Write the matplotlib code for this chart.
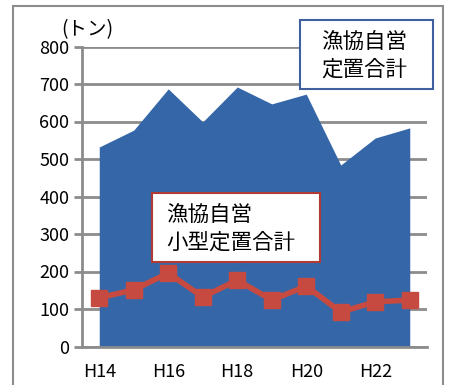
import matplotlib.pyplot as plt
from matplotlib.patches import Rectangle

plt.rcParams['font.family'] = ['Noto Sans CJK JP', 'DejaVu Sans']

years = ['H14', 'H15', 'H16', 'H17', 'H18', 'H19', 'H20', 'H21', 'H22', 'H23']
total = [532, 577, 687, 599, 692, 647, 673, 484, 556, 583]
small = [130, 151, 196, 132, 177, 124, 161, 92, 119, 124]
tick_years = ['H14', 'H16', 'H18', 'H20', 'H22']

W, H = 450, 385
fig = plt.figure(figsize=(W / 100, H / 100), dpi=100)


def fx(px):
    return px / W


def fy(py):
    return 1 - py / H


# outer frame
fig.patches.append(Rectangle((fx(13), fy(400)), fx(443) - fx(13), fy(6) - fy(400),
                             transform=fig.transFigure, fill=False,
                             edgecolor='#8c8c8c', linewidth=1.5))

ax = fig.add_axes([fx(82), fy(346.5), fx(427) - fx(82), fy(46.5) - fy(346.5)])
x = list(range(len(years)))

ax.fill_between(x, 0, total, color='#3567a8', linewidth=0, zorder=2)
ax.plot(x, small, color='#c64a40', linewidth=4, marker='s', markersize=12,
        zorder=3)

ax.set_xlim(-0.5, len(years) - 0.5)
ax.set_ylim(0, 800)
ax.set_yticks(range(0, 801, 100))
ax.set_xticks([years.index(t) for t in tick_years])
ax.set_xticklabels(tick_years)
ax.tick_params(axis='x', length=0, pad=12, labelsize=13)
ax.tick_params(axis='y', length=6, width=2, color='#8c8c8c', labelsize=13, pad=3)
ax.grid(axis='y', color='#8c8c8c', linewidth=2, zorder=1)
ax.set_axisbelow(True)
for s in ['top', 'right']:
    ax.spines[s].set_visible(False)
ax.spines['left'].set_color('#8c8c8c')
ax.spines['left'].set_linewidth(2)
ax.spines['bottom'].set_color('#8c8c8c')
ax.spines['bottom'].set_linewidth(2)

fig.text(fx(61), fy(30), '(トン)', fontsize=14, va='center', ha='left')

# label boxes
fig.patches.append(Rectangle((fx(300), fy(89)), fx(433) - fx(300), fy(20) - fy(89),
                             transform=fig.transFigure, facecolor='white',
                             edgecolor='#3f5f9f', linewidth=1.5, zorder=5))
fig.text(fx(364), fy(56), '漁協自営\n定置合計', fontsize=15.5, ha='center',
         va='center', linespacing=1.3, zorder=6)

fig.patches.append(Rectangle((fx(152), fy(262)), fx(320) - fx(152), fy(193) - fy(262),
                             transform=fig.transFigure, facecolor='white',
                             edgecolor='#b03a36', linewidth=1.5, zorder=5))
fig.text(fx(166), fy(229), '漁協自営\n小型定置合計', fontsize=15.5, ha='left',
         va='center', linespacing=1.3, zorder=6)

fig.savefig('out.png', dpi=100)
